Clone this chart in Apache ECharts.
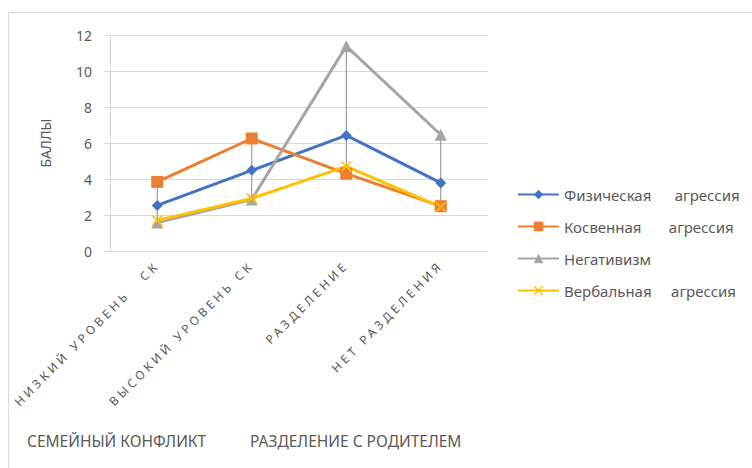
<!DOCTYPE html>
<html lang="ru">
<head>
	<meta charset="UTF-8">
	<title>Агрессия</title>
	<script src="https://cdn.jsdelivr.net/npm/echarts@6/dist/echarts.min.js"></script>
	<style>
		html, body { margin: 0; padding: 0; background: #fff; }
		#main { width: 752px; height: 468px; }
		/* the slanted category labels are widely spaced in the original */
		#main text[transform^="matrix(0.7"] { letter-spacing: 3.5px; }
	</style>
</head>
<body>
	<div id="main"></div>
	<script>
		var categories = ['НИЗКИЙ УРОВЕНЬ   СК', 'ВЫСОКИЙ УРОВЕНЬ СК', 'РАЗДЕЛЕНИЕ', 'НЕТ РАЗДЕЛЕНИЯ'];
		var groups = ['СЕМЕЙНЫЙ КОНФЛИКТ', 'РАЗДЕЛЕНИЕ С РОДИТЕЛЕМ'];
		var seriesNames = ['Физическая      агрессия', 'Косвенная       агрессия', 'Негативизм', 'Вербальная     агрессия'];
		var physical = [2.53, 4.48, 6.42, 3.78];
		var indirect = [3.84, 6.25, 4.30, 2.49];
		var negativism = [1.58, 2.86, 11.38, 6.46];
		var verbal = [1.70, 2.92, 4.70, 2.45];
		var yTicks = [0, 2, 4, 6, 8, 10, 12];

		var textColor = '#595959';
		var font = 'Noto Sans';
		var xMark = 'path://M0,1 L1,0 L5,4 L9,0 L10,1 L6,5 L10,9 L9,10 L5,6 L1,10 L0,9 L4,5 Z';

		var all = [physical, indirect, negativism, verbal];
		// high-low lines: one per category, from the lowest to the highest value
		var hiLow = categories.map(function (c, i) {
			var vals = all.map(function (s) { return s[i]; });
			return [i, Math.min.apply(null, vals), Math.max.apply(null, vals)];
		});

		function lineSeries(name, data, color, symbol, size) {
			return {
				name: name,
				type: 'line',
				data: data,
				symbol: symbol,
				symbolSize: size,
				z: 3,
				lineStyle: { color: color, width: 3 },
				itemStyle: { color: color, borderColor: color, borderWidth: 0 }
			};
		}

		var option = {
			animation: false,
			color: ['#4472C4', '#ED7D31', '#A5A5A5', '#FFC000'],
			textStyle: { fontFamily: font },
			grid: { left: 110, right: 264, top: 35, bottom: 217 },
			legend: {
				orient: 'vertical',
				left: 517,
				top: 187,
				padding: 0,
				itemGap: 17,
				itemWidth: 41,
				itemHeight: 12,
				textStyle: { color: textColor, fontSize: 15, fontFamily: font },
				data: seriesNames
			},
			xAxis: {
				type: 'category',
				data: categories,
				boundaryGap: true,
				axisLine: { lineStyle: { color: '#d9d9d9', width: 1 } },
				axisTick: { show: false },
				axisLabel: { rotate: 45, margin: 12, color: textColor, fontSize: 12, fontFamily: font, interval: 0 }
			},
			yAxis: {
				type: 'value',
				min: yTicks[0],
				max: yTicks[yTicks.length - 1],
				interval: 2,
				name: 'БАЛЛЫ',
				nameLocation: 'middle',
				nameGap: 58,
				nameRotate: 90,
				nameTextStyle: { color: textColor, fontSize: 14, fontFamily: font },
				axisLine: { show: true, lineStyle: { color: '#d9d9d9' } },
				axisTick: { show: true, length: 6, lineStyle: { color: '#d9d9d9' } },
				splitLine: { lineStyle: { color: '#d9d9d9' } },
				axisLabel: { color: textColor, fontSize: 14, fontFamily: font, margin: 18 }
			},
			graphic: [
				{ type: 'line', shape: { x1: 8, y1: 12.5, x2: 752, y2: 12.5 }, style: { stroke: '#d9d9d9', lineWidth: 1 } },
				{ type: 'line', shape: { x1: 8.5, y1: 12, x2: 8.5, y2: 468 }, style: { stroke: '#d9d9d9', lineWidth: 1 } },
				{ type: 'text', left: 27, top: 433, style: { text: groups[0], fill: textColor, font: '15.5px "Noto Sans"' } },
				{ type: 'text', left: 250, top: 433, style: { text: groups[1], fill: textColor, font: '15.5px "Noto Sans"' } }
			],
			series: [
				{
					type: 'custom',
					z: 1,
					silent: true,
					data: hiLow,
					renderItem: function (params, api) {
						var p1 = api.coord([api.value(0), api.value(1)]);
						var p2 = api.coord([api.value(0), api.value(2)]);
						return {
							type: 'line',
							shape: { x1: p1[0], y1: p1[1], x2: p2[0], y2: p2[1] },
							style: { stroke: '#8c8c8c', lineWidth: 1 }
						};
					}
				},
				lineSeries(seriesNames[0], physical, '#4472C4', 'diamond', 11),
				lineSeries(seriesNames[1], indirect, '#ED7D31', 'rect', 12),
				lineSeries(seriesNames[2], negativism, '#A5A5A5', 'triangle', 12),
				lineSeries(seriesNames[3], verbal, '#FFC000', xMark, 11)
			]
		};

		var myChart = echarts.init(document.getElementById('main'), null, { renderer: 'svg' });
		myChart.setOption(option);
	</script>
</body>
</html>
